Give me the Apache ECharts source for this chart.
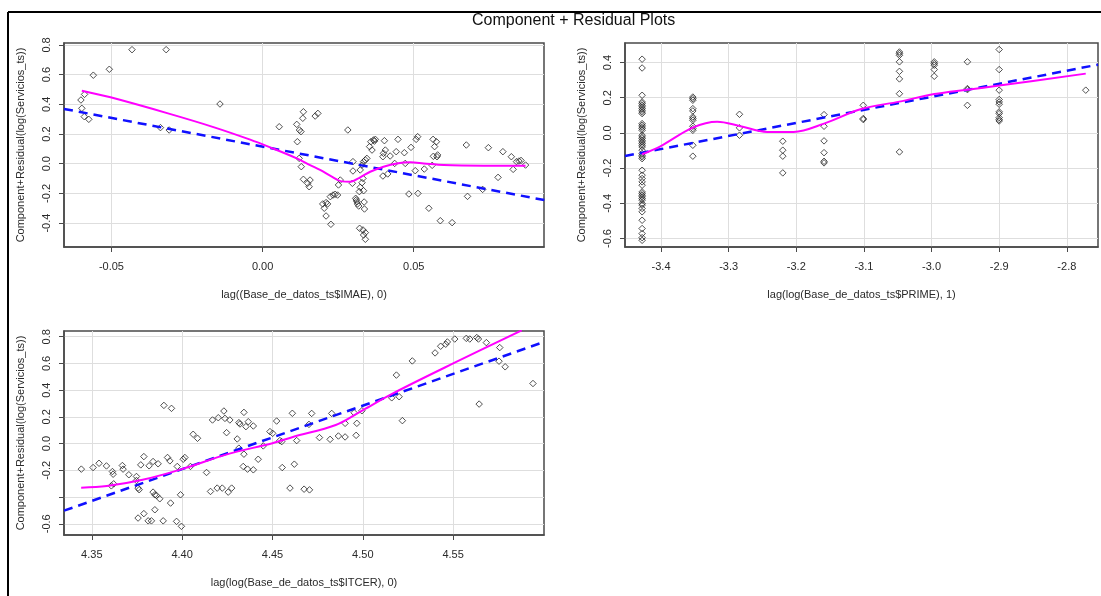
<!DOCTYPE html>
<html>
<head>
<meta charset="utf-8">
<script src="https://cdn.jsdelivr.net/npm/echarts@6/dist/echarts.min.js"></script>
<style>
  html, body { margin: 0; padding: 0; background: #ffffff; }
  #chart { width: 1101px; height: 596px; }
</style>
</head>
<body>
<div id="chart"></div>
<script>
// ---- Panel 1: lag((Base_de_datos_ts$IMAE), 0) ----
const imaePoints = [
  [-0.0601,0.429],[-0.0598,0.373],[-0.0589,0.467],[-0.0590,0.317],[-0.0575,0.299],[-0.0560,0.596],
  [-0.0507,0.636],[-0.0432,0.768],[-0.0319,0.768],[-0.0338,0.243],[-0.0309,0.227],[-0.0141,0.402],
  [0.0055,0.249],[0.0135,0.350],[0.0133,0.306],[0.0113,0.265],[0.0122,0.227],[0.0127,0.216],
  [0.0115,0.148],[0.0174,0.321],[0.0183,0.339],[0.0282,0.227],[0.0121,0.036],[0.0128,-0.020],
  [0.0135,-0.105],[0.0149,-0.132],[0.0157,-0.110],[0.0154,-0.155],[0.0199,-0.271],[0.0204,-0.300],
  [0.0210,-0.262],[0.0215,-0.271],[0.0224,-0.222],[0.0233,-0.211],[0.0240,-0.206],[0.0248,-0.211],
  [0.0210,-0.352],[0.0226,-0.408],[0.0251,-0.143],[0.0257,-0.110],[0.0299,0.014],[0.0299,-0.049],
  [0.0297,-0.132],[0.0323,-0.042],[0.0329,-0.009],[0.0334,0.014],[0.0340,0.025],[0.0345,0.036],
  [0.0332,-0.099],[0.0329,-0.128],[0.0323,-0.159],[0.0320,-0.188],[0.0334,-0.182],[0.0310,-0.244],
  [0.0312,-0.256],[0.0314,-0.271],[0.0318,-0.285],[0.0308,-0.233],[0.0337,-0.305],[0.0321,-0.435],
  [0.0332,-0.446],[0.0340,-0.464],[0.0334,-0.480],[0.0340,-0.509],[0.0354,0.115],[0.0358,0.148],
  [0.0362,0.092],[0.0367,0.160],[0.0373,0.164],[0.0370,0.152],[0.0336,-0.258],[0.0398,0.047],
  [0.0400,0.070],[0.0406,0.092],[0.0403,0.155],[0.0398,-0.083],[0.0414,-0.069],[0.0422,0.052],
  [0.0442,0.081],[0.0448,0.164],[0.0469,0.074],[0.0472,0.002],[0.0491,0.110],[0.0508,0.164],
  [0.0513,0.182],[0.0437,0.002],[0.0484,-0.204],[0.0514,-0.200],[0.0505,-0.047],[0.0535,-0.036],
  [0.0561,-0.011],[0.0550,-0.300],[0.0564,0.164],[0.0569,0.115],[0.0575,0.148],[0.0577,0.047],
  [0.0579,0.059],[0.0565,0.050],[0.0588,-0.384],[0.0627,-0.397],[0.0674,0.126],[0.0747,0.108],
  [0.0795,0.081],[0.0823,0.047],[0.0840,0.014],[0.0848,0.018],[0.0855,0.022],[0.0829,-0.038],
  [0.0870,-0.009],[0.0779,-0.092],[0.0728,-0.173],[0.0678,-0.220]
];
const imaeFit = [[-0.0657,0.369],[0.0932,-0.245]];
const imaeSmooth = [
  [-0.0598,0.492],[-0.0503,0.447],[-0.0313,0.339],[-0.0160,0.245],[-0.0041,0.162],[0.0025,0.110],
  [0.0113,0.036],[0.0157,-0.009],[0.0190,-0.042],[0.0229,-0.087],[0.0262,-0.119],[0.0290,-0.121],
  [0.0323,-0.092],[0.0356,-0.054],[0.0400,-0.020],[0.0444,0.002],[0.0489,0.009],[0.0533,0.002],
  [0.0599,-0.009],[0.0732,-0.013],[0.0870,-0.013]
];
const imaeXTicks = [-0.05, 0, 0.05];
const imaeYTicks = [-0.4, -0.2, 0, 0.2, 0.4, 0.6, 0.8];

// ---- Panel 2: lag(log(Base_de_datos_ts$PRIME), 1) ----
const primePoints = [
  [-3.428,0.419],[-3.428,0.369],[-3.428,0.214],[-3.428,0.176],[-3.428,0.167],[-3.428,0.157],
  [-3.428,0.148],[-3.428,0.138],[-3.428,0.129],[-3.428,0.119],[-3.428,0.110],[-3.428,0.053],
  [-3.428,0.044],[-3.428,0.034],[-3.428,0.025],[-3.428,0.015],[-3.428,-0.013],[-3.428,-0.023],
  [-3.428,-0.032],[-3.428,-0.042],[-3.428,-0.051],[-3.428,-0.060],[-3.428,-0.070],[-3.428,-0.080],
  [-3.428,-0.098],[-3.428,-0.117],[-3.428,-0.127],[-3.428,-0.136],[-3.428,-0.146],[-3.428,-0.212],
  [-3.428,-0.240],[-3.428,-0.259],[-3.428,-0.278],[-3.428,-0.297],[-3.428,-0.335],[-3.428,-0.345],
  [-3.428,-0.354],[-3.428,-0.363],[-3.428,-0.373],[-3.428,-0.382],[-3.428,-0.401],[-3.428,-0.410],
  [-3.428,-0.429],[-3.428,-0.448],[-3.428,-0.496],[-3.428,-0.543],[-3.428,-0.572],[-3.428,-0.595],
  [-3.428,-0.610],
  [-3.353,0.204],[-3.353,0.195],[-3.353,0.186],[-3.353,0.138],[-3.353,0.125],[-3.353,0.091],
  [-3.353,0.082],[-3.353,0.072],[-3.353,0.038],[-3.353,0.025],[-3.353,0.015],[-3.353,-0.070],
  [-3.353,-0.132],
  [-3.284,0.106],[-3.284,0.029],[-3.284,-0.013],
  [-3.220,-0.047],[-3.220,-0.098],[-3.220,-0.132],[-3.220,-0.227],
  [-3.159,0.104],[-3.159,0.038],[-3.159,-0.045],[-3.159,-0.112],[-3.159,-0.161],[-3.159,-0.170],
  [-3.101,0.157],[-3.101,0.082],[-3.101,0.076],
  [-3.0475,0.460],[-3.0475,0.451],[-3.0475,0.441],[-3.0475,0.404],[-3.0475,0.350],[-3.0475,0.307],
  [-3.0475,0.223],[-3.0475,-0.108],
  [-2.996,0.404],[-2.996,0.394],[-2.996,0.385],[-2.996,0.360],[-2.996,0.322],
  [-2.947,0.404],[-2.947,0.252],[-2.947,0.246],[-2.947,0.157],
  [-2.900,0.474],[-2.900,0.360],[-2.900,0.243],[-2.900,0.190],[-2.900,0.176],[-2.900,0.163],
  [-2.900,0.120],[-2.900,0.110],[-2.900,0.087],[-2.900,0.076],[-2.900,0.068],
  [-2.772,0.243]
];
const primeFit = [[-3.4533,-0.131],[-2.7539,0.388]];
const primeSmooth = [
  [-3.428,-0.121],[-3.401,-0.076],[-3.353,0.030],[-3.317,0.063],[-3.284,0.040],[-3.243,0.006],
  [-3.204,0.006],[-3.159,0.053],[-3.104,0.136],[-3.0475,0.178],[-2.996,0.221],[-2.947,0.246],
  [-2.900,0.269],[-2.772,0.337]
];
const primeXTicks = [-3.4, -3.3, -3.2, -3.1, -3.0, -2.9, -2.8];
const primeYTicks = [-0.6, -0.4, -0.2, 0, 0.2, 0.4];

// ---- Panel 3: lag(log(Base_de_datos_ts$ITCER), 0) ----
const itcerPoints = [
  [4.3442,-0.191],[4.3507,-0.179],[4.3540,-0.147],[4.3581,-0.167],[4.3614,-0.209],[4.3618,-0.229],
  [4.3608,-0.316],[4.3621,-0.301],[4.3669,-0.164],[4.3673,-0.191],[4.3705,-0.233],[4.3747,-0.246],
  [4.3747,-0.276],[4.3756,-0.333],[4.3762,-0.345],[4.3771,-0.159],[4.3788,-0.097],[4.3817,-0.166],
  [4.3839,-0.134],[4.3867,-0.151],[4.3839,-0.363],[4.3849,-0.383],[4.3858,-0.388],[4.3876,-0.413],
  [4.3899,0.286],[4.3941,0.264],[4.3919,-0.104],[4.3932,-0.129],[4.3973,-0.171],[4.3991,-0.383],
  [4.4006,-0.117],[4.4015,-0.104],[4.3936,-0.445],[4.3849,-0.495],[4.3788,-0.524],[4.3756,-0.557],
  [4.3812,-0.578],[4.3830,-0.578],[4.3895,-0.578],[4.3969,-0.582],[4.3996,-0.619],[4.4046,-0.171],
  [4.4061,0.070],[4.4085,0.040],[4.4135,-0.216],[4.4157,-0.358],[4.4194,-0.333],[4.4222,-0.333],
  [4.4255,-0.363],[4.4274,-0.333],[4.4168,0.177],[4.4200,0.194],[4.4231,0.244],[4.4237,0.189],
  [4.4264,0.177],[4.4246,0.082],[4.4314,0.157],[4.4320,0.147],[4.4342,0.234],[4.4353,0.127],
  [4.4366,0.164],[4.4394,0.132],[4.4305,0.035],[4.4314,-0.034],[4.4342,-0.079],[4.4338,-0.171],
  [4.4362,-0.191],[4.4394,-0.196],[4.4421,-0.117],[4.4449,-0.017],[4.4486,0.090],[4.4501,0.077],
  [4.4523,0.169],[4.4541,0.023],[4.4551,0.015],[4.4554,-0.179],[4.4597,-0.333],[4.4621,-0.154],
  [4.4610,0.227],[4.4634,0.023],
  [4.4702,0.144],[4.4717,0.226],[4.4760,0.045],[4.4819,0.032],[4.4828,0.226],[4.4865,0.057],
  [4.4902,0.050],[4.4902,0.152],[4.4952,0.231],[4.4967,0.152],[4.4963,0.062],[4.4995,0.246],
  [4.4675,-0.341],[4.4705,-0.346],[4.5160,0.343],[4.5201,0.351],[4.5186,0.513],[4.5219,0.172],
  [4.5274,0.619],[4.5400,0.679],[4.5431,0.729],[4.5459,0.744],[4.5468,0.761],[4.5509,0.783],
  [4.5573,0.788],[4.5592,0.783],[4.5631,0.794],[4.5640,0.783],[4.5684,0.756],[4.5758,0.719],
  [4.5754,0.617],[4.5788,0.575],[4.5644,0.296],[4.5942,0.450]
];
const itcerFit = [[4.3346,-0.502],[4.6003,0.761]];
const itcerSmooth = [
  [4.3441,-0.330],[4.3583,-0.318],[4.3781,-0.271],[4.3999,-0.191],[4.4257,-0.077],[4.4500,0.003],
  [4.4613,0.050],[4.4850,0.139],[4.5001,0.251],[4.5167,0.376],[4.5500,0.600],[4.5880,0.848]
];
const itcerXTicks = [4.35, 4.40, 4.45, 4.50, 4.55];
const itcerYTicks = [-0.6, -0.4, -0.2, 0, 0.2, 0.4, 0.6, 0.8];
const itcerYLabels = [-0.6, -0.2, 0, 0.2, 0.4, 0.6, 0.8];

const FONT = "'Liberation Sans', Arial, sans-serif";
const TXT = '#2a2a2a';
const BOX = '#4a4a4a';
const GRIDLINE = '#dedede';
const yName = 'Component+Residual(log(Servicios_ts))';

const panels = [
  { grid: { left: 64, top: 43, width: 480, height: 204 },
    xMin: -0.0657, xMax: 0.0931, yMin: -0.561, yMax: 0.813,
    xTicks: imaeXTicks, xLabels: imaeXTicks, xDigits: 2,
    yTicks: imaeYTicks, yLabels: imaeYTicks,
    xName: 'lag((Base_de_datos_ts$IMAE), 0)',
    points: imaePoints, fit: imaeFit, smooth: imaeSmooth },
  { grid: { left: 625, top: 43, width: 473, height: 204 },
    xMin: -3.4533, xMax: -2.7539, yMin: -0.648, yMax: 0.511,
    xTicks: primeXTicks, xLabels: primeXTicks, xDigits: 1,
    yTicks: primeYTicks, yLabels: primeYTicks,
    xName: 'lag(log(Base_de_datos_ts$PRIME), 1)',
    points: primePoints, fit: primeFit, smooth: primeSmooth },
  { grid: { left: 64, top: 331, width: 480, height: 204 },
    xMin: 4.3346, xMax: 4.6003, yMin: -0.684, yMax: 0.843,
    xTicks: itcerXTicks, xLabels: itcerXTicks, xDigits: 2,
    yTicks: itcerYTicks, yLabels: itcerYLabels,
    xName: 'lag(log(Base_de_datos_ts$ITCER), 0)',
    points: itcerPoints, fit: itcerFit, smooth: itcerSmooth }
];

const grids = [], xAxes = [], yAxes = [], series = [];
panels.forEach((p, i) => {
  grids.push(Object.assign({ show: true, borderColor: BOX, borderWidth: 1.5, backgroundColor: '#fff' }, p.grid));
  xAxes.push({
    type: 'value', gridIndex: i, min: p.xMin, max: p.xMax, position: 'bottom',
    axisLine: { show: true, onZero: false, lineStyle: { color: BOX, width: 1.5 } },
    axisTick: { show: true, inside: false, length: 5, customValues: p.xTicks, lineStyle: { color: BOX, width: 1 } },
    axisLabel: { customValues: p.xLabels, formatter: v => v.toFixed(p.xDigits),
                 fontSize: 11, fontFamily: FONT, color: TXT, margin: 14 },
    splitLine: { show: true, lineStyle: { color: GRIDLINE, width: 1 } },
    name: p.xName, nameLocation: 'middle', nameGap: 42,
    nameTextStyle: { fontSize: 11, fontFamily: FONT, color: TXT }
  });
  yAxes.push({
    type: 'value', gridIndex: i, min: p.yMin, max: p.yMax, position: 'left',
    axisLine: { show: true, onZero: false, lineStyle: { color: BOX, width: 1.5 } },
    axisTick: { show: true, inside: false, length: 5, customValues: p.yTicks, lineStyle: { color: BOX, width: 1 } },
    axisLabel: { customValues: p.yLabels, formatter: v => v.toFixed(1), rotate: 90,
                 fontSize: 11, fontFamily: FONT, color: TXT, margin: 12 },
    splitLine: { show: true, lineStyle: { color: GRIDLINE, width: 1 } },
    name: yName, nameLocation: 'middle', nameGap: 38,
    nameTextStyle: { fontSize: 11, fontFamily: FONT, color: TXT }
  });
  series.push({
    type: 'scatter', xAxisIndex: i, yAxisIndex: i, data: p.points,
    symbol: 'diamond', symbolSize: 6.5, silent: true, z: 2,
    itemStyle: { color: 'rgba(0,0,0,0)', borderColor: '#262626', borderWidth: 1 }
  });
  series.push({
    type: 'line', xAxisIndex: i, yAxisIndex: i, data: p.fit,
    symbol: 'none', silent: true, z: 3, clip: true,
    lineStyle: { color: '#1010ff', width: 2.5, type: [9, 6] }
  });
  series.push({
    type: 'line', xAxisIndex: i, yAxisIndex: i, data: p.smooth,
    symbol: 'none', silent: true, z: 4, clip: true, smooth: 0.35,
    lineStyle: { color: '#ff00ff', width: 2 }
  });
});

const chart = echarts.init(document.getElementById('chart'), null, { renderer: 'canvas' });
chart.setOption({
  animation: false,
  backgroundColor: '#ffffff',
  grid: grids, xAxis: xAxes, yAxis: yAxes, series: series,
  graphic: [
    { type: 'line', shape: { x1: 8, y1: 12, x2: 1101, y2: 12 }, style: { stroke: '#000', lineWidth: 2 } },
    { type: 'line', shape: { x1: 8, y1: 12, x2: 8, y2: 596 }, style: { stroke: '#000', lineWidth: 2 } },
    { type: 'text', left: 472, top: 13,
      style: { text: 'Component + Residual Plots', fontSize: 16, fontFamily: FONT, fill: '#111' } }
  ]
});
</script>
</body>
</html>
